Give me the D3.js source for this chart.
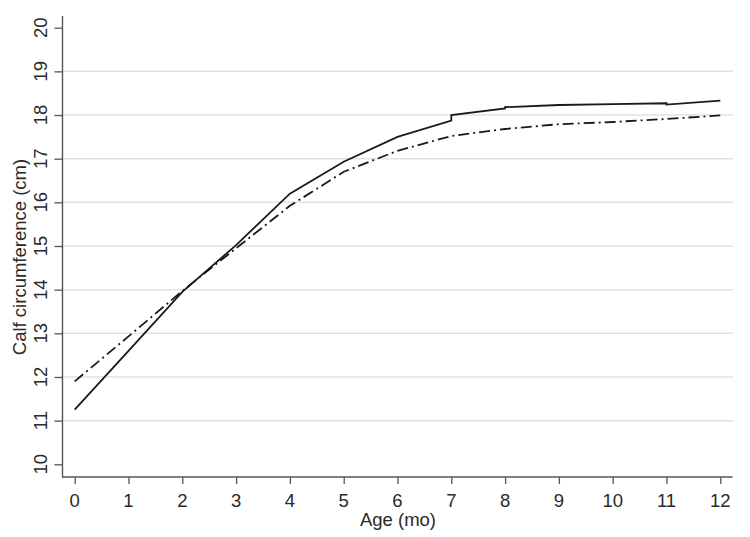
<!DOCTYPE html>
<html>
<head>
<meta charset="utf-8">
<script src="https://cdn.jsdelivr.net/npm/d3@7"></script>
<style>
  html, body { margin: 0; padding: 0; background: #fff; }
  svg { display: block; font-family: "Liberation Sans", Arial, sans-serif; }
</style>
</head>
<body>
<svg id="chart" width="750" height="537"></svg>
<script>
// Calf circumference by age — two curves
const xTicks = [0, 1, 2, 3, 4, 5, 6, 7, 8, 9, 10, 11, 12];
const yTicks = [10, 11, 12, 13, 14, 15, 16, 17, 18, 19, 20];
const gridValues = [11, 12, 13, 14, 15, 16, 17, 18, 19];

// solid curve (repeated months = small steps between segments)
const solidMonths = [0, 1, 2, 3, 4, 5, 6, 7, 7, 8, 8, 9, 10, 11, 11, 12];
const solidValues = [11.25, 12.6, 13.95, 15.02, 16.2, 16.93, 17.5, 17.87, 18.0, 18.15, 18.18, 18.23, 18.25, 18.27, 18.24, 18.33];

// dash-dot curve
const dashMonths = [0, 1, 2, 3, 4, 5, 6, 7, 8, 9, 10, 11, 12];
const dashValues = [11.9, 12.93, 13.97, 14.95, 15.92, 16.7, 17.18, 17.52, 17.68, 17.79, 17.84, 17.91, 17.99];

const svg = d3.select('#chart');

const x = d3.scaleLinear().domain([0, 12]).range([74.7, 720.3]);
const y = d3.scaleLinear().domain([10, 20]).range([464.3, 27.7]);

const axisColor = '#555';
const textColor = '#2a2a2a';
const fontSize = 18.5;

// gridlines
svg.append('g')
  .selectAll('line')
  .data(gridValues)
  .enter()
  .append('line')
  .attr('x1', 63).attr('x2', 733)
  .attr('y1', d => y(d)).attr('y2', d => y(d))
  .attr('stroke', '#e2e2e2')
  .attr('stroke-width', 1.5);

// y axis
const yAxis = svg.append('g')
  .attr('transform', 'translate(62.5,0)')
  .call(d3.axisLeft(y).tickValues(yTicks).tickSize(8).tickFormat(''));
yAxis.select('.domain').remove();
yAxis.selectAll('.tick line').attr('stroke', axisColor).attr('stroke-width', 1.3);
svg.append('line')
  .attr('x1', 62.5).attr('x2', 62.5).attr('y1', 16).attr('y2', 477.5)
  .attr('stroke', axisColor).attr('stroke-width', 1.4);

svg.append('g')
  .selectAll('text')
  .data(yTicks)
  .enter()
  .append('text')
  .attr('transform', d => `translate(47,${y(d)}) rotate(-90)`)
  .attr('text-anchor', 'middle')
  .attr('font-size', fontSize)
  .attr('fill', textColor)
  .text(d => d);

// x axis
const xAxis = svg.append('g')
  .attr('transform', 'translate(0,477)')
  .call(d3.axisBottom(x).tickValues(xTicks).tickSize(7).tickFormat(''));
xAxis.select('.domain').remove();
xAxis.selectAll('.tick line').attr('stroke', axisColor).attr('stroke-width', 1.3);
svg.append('line')
  .attr('x1', 62).attr('x2', 732.5).attr('y1', 477).attr('y2', 477)
  .attr('stroke', axisColor).attr('stroke-width', 1.4);

svg.append('g')
  .selectAll('text')
  .data(xTicks)
  .enter()
  .append('text')
  .attr('x', d => x(d))
  .attr('y', 506.5)
  .attr('text-anchor', 'middle')
  .attr('font-size', fontSize)
  .attr('fill', textColor)
  .text(d => d);

// axis titles
svg.append('text')
  .attr('transform', `translate(26,${257}) rotate(-90)`)
  .attr('text-anchor', 'middle')
  .attr('font-size', fontSize)
  .attr('fill', textColor)
  .text('Calf circumference (cm)');

svg.append('text')
  .attr('x', 398)
  .attr('y', 526)
  .attr('text-anchor', 'middle')
  .attr('font-size', fontSize)
  .attr('fill', textColor)
  .text('Age (mo)');

// curves
const line = d3.line().x(d => x(d[0])).y(d => y(d[1]));

svg.append('path')
  .datum(dashMonths.map((m, i) => [m, dashValues[i]]))
  .attr('d', line)
  .attr('fill', 'none')
  .attr('stroke', '#1a1a1a')
  .attr('stroke-width', 1.8)
  .attr('stroke-dasharray', '11,4,2,4');

svg.append('path')
  .datum(solidMonths.map((m, i) => [m, solidValues[i]]))
  .attr('d', line)
  .attr('fill', 'none')
  .attr('stroke', '#1a1a1a')
  .attr('stroke-width', 1.8);
</script>
</body>
</html>
